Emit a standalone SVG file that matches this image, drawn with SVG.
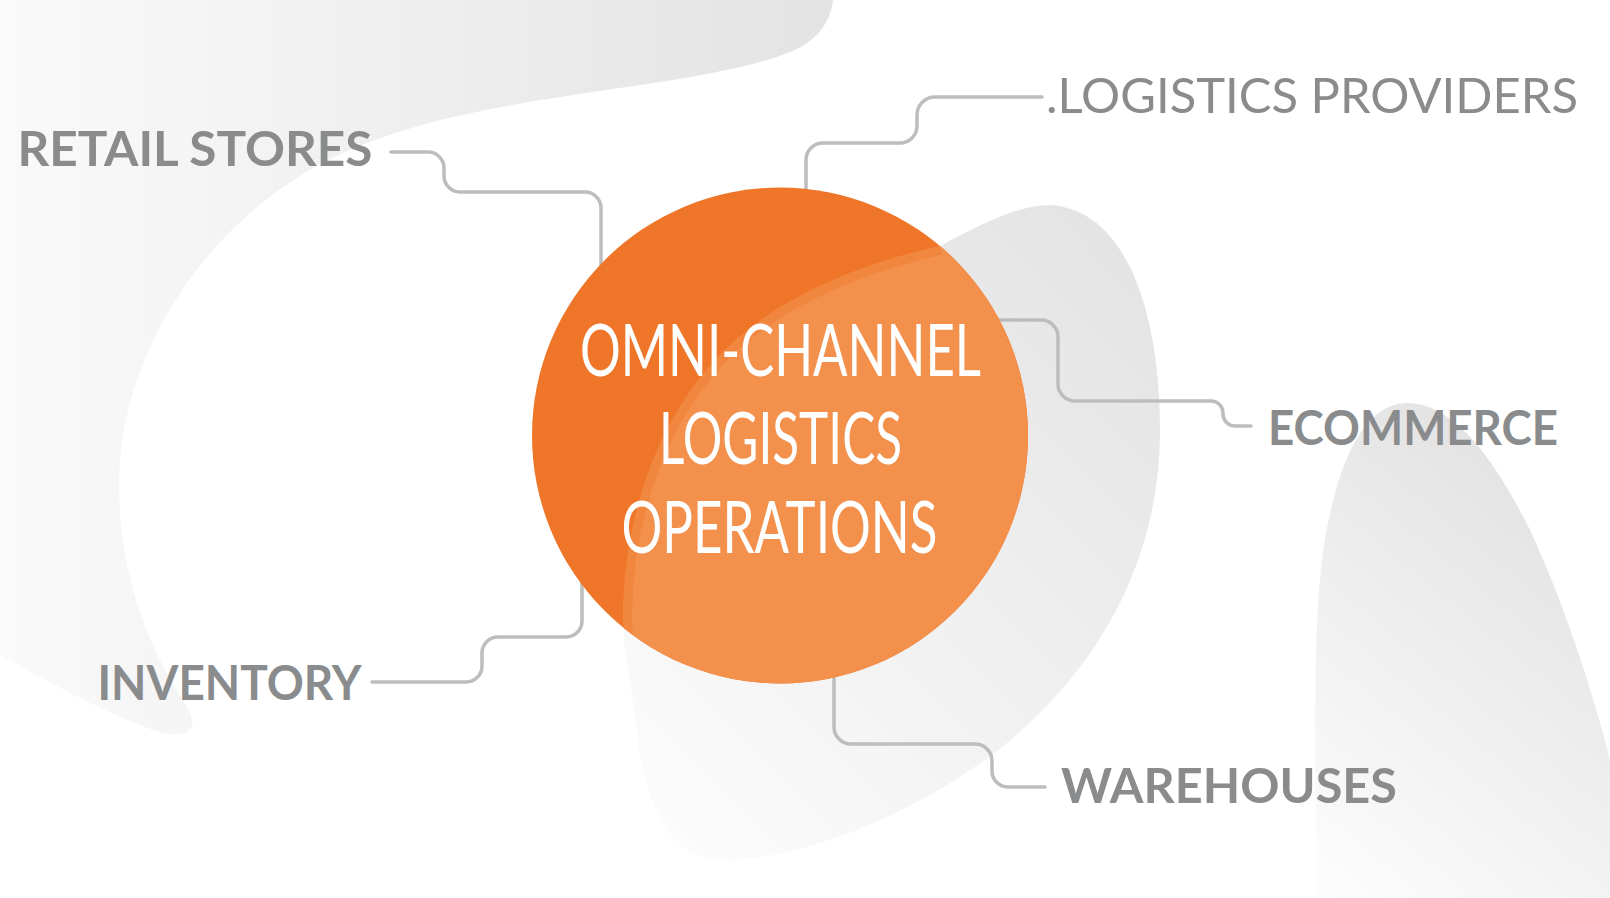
<svg xmlns="http://www.w3.org/2000/svg" width="1610" height="898" viewBox="0 0 1610 898">
  <defs>
    <style>
      .conn { fill: none; stroke: #BDBDBD; stroke-width: 3.5; stroke-linecap: round; stroke-linejoin: round; }
      .label { font-family: Lato, "Liberation Sans", sans-serif; font-weight: 700; font-size: 48px; fill: #8A8B8D; }
      .label-light { font-family: Lato, "Liberation Sans", sans-serif; font-weight: 400; font-size: 48px; fill: #8A8B8D; }
      .center-text { font-family: Lato, "Liberation Sans", sans-serif; font-weight: 400; font-size: 72px; fill: #FFFFFF; text-anchor: middle; }
    </style>
    <linearGradient id="gTopLeft" x1="0" y1="0" x2="833" y2="0" gradientUnits="userSpaceOnUse">
      <stop offset="0" stop-color="#FAFAFA"/>
      <stop offset="1" stop-color="#E3E3E3"/>
    </linearGradient>
    <linearGradient id="gMid" x1="640" y1="820" x2="1160" y2="300" gradientUnits="userSpaceOnUse">
      <stop offset="0" stop-color="#FCFCFC"/>
      <stop offset="1" stop-color="#E4E4E4"/>
    </linearGradient>
    <linearGradient id="gRight" x1="1300" y1="898" x2="1610" y2="520" gradientUnits="userSpaceOnUse">
      <stop offset="0" stop-color="#FEFEFE"/>
      <stop offset="1" stop-color="#E2E2E2"/>
    </linearGradient>
    <clipPath id="clipCircle">
      <circle cx="780" cy="435.5" r="248"/>
    </clipPath>
    <clipPath id="clipBlob">
      <path d="M940,246 C985,222 1020,205 1050,205 C1130,210 1160,320 1160,430 C1160,580 1080,690 985,760 C900,820 800,860 720,860 C670,860 645,800 638,740 C632,690 626,660 624,640 C618,540 650,420 730,345 C790,290 870,262 940,246 Z"/>
    </clipPath>
  </defs>

  <rect width="1610" height="898" fill="#FFFFFF"/>

  <g id="background">
    <path d="M0,0 H833 C830,25 815,42 790,52 C740,72 660,82 580,94 C470,110 380,130 310,170 C210,228 140,330 122,440 C112,520 128,600 165,670 C178,695 196,715 192,727 C186,738 165,735 145,727 C95,708 45,680 0,655 Z" fill="url(#gTopLeft)"/>
    <path d="M940,246 C985,222 1020,205 1050,205 C1130,210 1160,320 1160,430 C1160,580 1080,690 985,760 C900,820 800,860 720,860 C670,860 645,800 638,740 C632,690 626,660 624,640 C618,540 650,420 730,345 C790,290 870,262 940,246 Z" fill="url(#gMid)"/>
    <path d="M1318,898 C1315,800 1312,640 1322,560 C1335,460 1365,405 1405,403 C1450,402 1490,450 1530,530 C1565,605 1595,700 1610,760 V898 Z" fill="url(#gRight)"/>
  </g>

  <g id="connectors">
    <path class="conn" d="M391,152 H428 A16,16 0 0 1 444,168 V176 A16,16 0 0 0 460,192 H585 A16,16 0 0 1 601,208 V270"/>
    <path class="conn" d="M1042,97 H935 A18,18 0 0 0 917,115 V126 A17,17 0 0 1 900,143 H823 A17,17 0 0 0 806,160 V200"/>
    <path class="conn" d="M990,320 H1041 A17,17 0 0 1 1058,337 V384 A17,17 0 0 0 1075,401 H1211 A12,12 0 0 1 1223,413 V414 A12,12 0 0 0 1235,426 H1251"/>
    <path class="conn" d="M834,665 V727 A17,17 0 0 0 851,744 H975 A17,17 0 0 1 992,761 V771 A16,16 0 0 0 1008,787 H1045"/>
    <path class="conn" d="M372,682 H466 A16,16 0 0 0 482,666 V653 A16,16 0 0 1 498,637 H566 A16,16 0 0 0 582,621 V575"/>
  </g>

  <g id="node-center">
    <circle cx="780" cy="435.5" r="248" fill="#EF7628"/>
    <g clip-path="url(#clipCircle)">
      <path d="M940,246 C985,222 1020,205 1050,205 C1130,210 1160,320 1160,430 C1160,580 1080,690 985,760 C900,820 800,860 720,860 C670,860 645,800 638,740 C632,690 626,660 624,640 C618,540 650,420 730,345 C790,290 870,262 940,246 Z" fill="#F3904C"/>
      <g clip-path="url(#clipBlob)">
        <path d="M624,640 C618,540 650,420 730,345 C790,290 870,262 940,246" fill="none" stroke="#F1863F" stroke-width="18"/>
      </g>
    </g>
    <text class="center-text" x="780.5" y="376" textLength="401" lengthAdjust="spacingAndGlyphs">OMNI-CHANNEL</text>
    <text class="center-text" x="780.5" y="464" textLength="243" lengthAdjust="spacingAndGlyphs">LOGISTICS</text>
    <text class="center-text" x="779.5" y="553" textLength="316" lengthAdjust="spacingAndGlyphs">OPERATIONS</text>
  </g>

  <g id="node-retail-stores">
    <text class="label" x="17.5" y="166" textLength="355" lengthAdjust="spacingAndGlyphs">RETAIL STORES</text>
  </g>
  <g id="node-logistics-providers">
    <text class="label-light" x="1046" y="113" textLength="532" lengthAdjust="spacingAndGlyphs">.LOGISTICS PROVIDERS</text>
  </g>
  <g id="node-ecommerce">
    <text class="label" x="1268" y="445" textLength="290" lengthAdjust="spacingAndGlyphs">ECOMMERCE</text>
  </g>
  <g id="node-warehouses">
    <text class="label" x="1061" y="803" textLength="336" lengthAdjust="spacingAndGlyphs">WAREHOUSES</text>
  </g>
  <g id="node-inventory">
    <text class="label" x="97.5" y="700" textLength="264" lengthAdjust="spacingAndGlyphs">INVENTORY</text>
  </g>
</svg>
